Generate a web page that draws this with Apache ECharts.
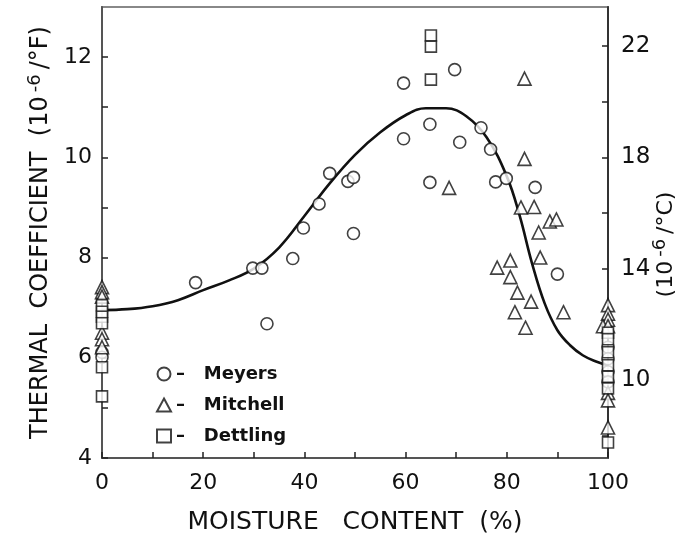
<!DOCTYPE html>
<html>
<head>
<meta charset="utf-8">
<script src="https://cdn.jsdelivr.net/npm/echarts@6/dist/echarts.min.js"></script>
<style>html,body{margin:0;padding:0;background:#fff}#c{width:689px;height:540px}</style>
</head>
<body>
<div id="c"></div>
<script>
// Data (x: moisture content %, y: thermal coefficient 10^-6/°F)
const meyers = [
  [18.5,7.50],[29.8,7.79],[31.6,7.79],[32.6,6.68],[37.7,7.98],[39.8,8.59],[42.9,9.07],
  [45.0,9.68],[48.6,9.52],[49.7,9.60],[49.7,8.48],[59.6,11.48],[59.6,10.37],[64.8,10.66],
  [64.8,9.50],[69.7,11.75],[70.7,10.30],[74.9,10.59],[76.8,10.16],[77.8,9.51],[79.9,9.58],
  [85.6,9.40],[90.0,7.67],
  [0,6.11],[0,6.01],
  [100,6.21],[100,5.98],[100,5.72],[100,5.52]
];
const mitchell = [
  [68.6,9.39],[83.5,11.57],[83.5,9.97],[82.8,9.00],[85.4,9.01],[88.5,8.72],[89.8,8.76],
  [86.3,8.50],[86.6,8.00],[78.1,7.80],[80.7,7.94],[80.7,7.61],[82.1,7.30],[84.8,7.12],
  [81.6,6.91],[91.2,6.91],[83.7,6.60],
  [0,7.41],[0,7.31],[0,7.22],[0,6.50],[0,6.37],[0,6.21],
  [100,7.05],[100,6.88],[100,6.76],[99,6.63],[100,6.63],[100,5.30],[100,5.15],[100,4.61]
];
const dettling = [
  [65.0,12.43],[65.0,12.21],[65.0,11.55],
  [0,7.05],[0,6.92],[0,6.82],[0,6.69],[0,5.81],[0,5.23],
  [100,6.50],[100,6.37],[100,6.11],[100,5.85],[100,5.62],[100,5.39],[100,4.31]
];
const curveX = [0,5,10,15,20,25,30,35,40,45,50,55,60,64,68,72,76,80,82.5,85,87.5,90,92.5,95,97.5,100];
const curveY = [6.95,6.97,7.03,7.15,7.35,7.54,7.78,8.2,8.83,9.48,10.05,10.5,10.84,10.98,10.98,10.82,10.4,9.62,8.85,7.88,7.08,6.55,6.25,6.05,5.93,5.85];
const xTickValues = [0,10,20,30,40,50,60,70,80,90,100];
const xLabelValues = [0,20,40,60,80,100];
const leftTickValues = [4,5,6,7,8,9,10,11,12];
const leftLabelValues = [4,6,8,10,12];
const rightTickValues = [8,10,12,14,16,18,20,22];
const rightLabelValues = [10,14,18,22];
const F_TO_C = 1.8;
const yMin = 4, yMax = 13;

const FONT = 'DejaVu Sans';
const chart = echarts.init(document.getElementById('c'), null, {renderer:'canvas'});
const markerStyle = {color:'#fff', borderColor:'#111', borderWidth:1.6};
const supStyle = {fontFamily:FONT, fontSize:18, color:'#111', verticalAlign:'top', padding:[0,5,12,4]};
chart.setOption({
  animation:false,
  backgroundColor:'#fff',
  grid:{left:102, right:81, top:7, bottom:73, show:true, borderColor:'#888', borderWidth:2},
  legend:{
    orient:'vertical', left:151, top:360, itemGap:13, itemWidth:14, itemHeight:13,
    data:['Meyers','Mitchell','Dettling'],
    formatter: n => '–   ' + n,
    textStyle:{fontFamily:FONT, fontSize:18, fontWeight:'bold', color:'#111'}
  },
  xAxis:{
    type:'value', min:0, max:100,
    axisLine:{lineStyle:{color:'#555', width:2}},
    axisTick:{inside:true, length:6, customValues:xTickValues, lineStyle:{color:'#222', width:1.5}},
    axisLabel:{customValues:xLabelValues, fontFamily:FONT, fontSize:22, color:'#111', margin:14},
    splitLine:{show:false},
    name:'MOISTURE   CONTENT  (%)', nameLocation:'middle', nameGap:52,
    nameTextStyle:{fontFamily:FONT, fontSize:25, color:'#111'}
  },
  yAxis:[{
    type:'value', min:yMin, max:yMax, position:'left',
    axisLine:{lineStyle:{color:'#555', width:2}},
    axisTick:{inside:true, length:6, customValues:leftTickValues, lineStyle:{color:'#222', width:1.5}},
    axisLabel:{customValues:leftLabelValues, fontFamily:FONT, fontSize:22, color:'#111', margin:10},
    splitLine:{show:false},
    name:'THERMAL  COEFFICIENT  (10{s|-6}/°F)', nameLocation:'middle', nameRotate:90, nameGap:46,
    nameTextStyle:{fontFamily:FONT, fontSize:24, color:'#111', rich:{s:supStyle}}
  },{
    type:'value', min:yMin*F_TO_C, max:yMax*F_TO_C, position:'right',
    axisLine:{lineStyle:{color:'#333', width:2}},
    axisTick:{inside:true, length:6, customValues:rightTickValues, lineStyle:{color:'#222', width:1.5}},
    axisLabel:{customValues:rightLabelValues, fontFamily:FONT, fontSize:23, color:'#111', margin:13},
    splitLine:{show:false},
    name:'(10{s|-6}/°C)', nameLocation:'middle', nameRotate:90, nameGap:43, nameMoveOverlap:false,
    nameTextStyle:{fontFamily:FONT, fontSize:22, color:'#111', padding:[0,24,0,0], rich:{s:supStyle}}
  }],
  series:[
    {name:'curve', type:'line', data:curveX.map((x,i)=>[x,curveY[i]]), smooth:0.4,
     showSymbol:false, lineStyle:{color:'#111', width:2.6}, z:1, silent:true},
    {name:'Meyers', type:'scatter', data:meyers, symbol:'circle', symbolSize:12, itemStyle:markerStyle, z:3},
    {name:'Mitchell', type:'scatter', data:mitchell, symbol:'triangle', symbolSize:13, itemStyle:markerStyle, z:3},
    {name:'Dettling', type:'scatter', data:dettling, symbol:'rect', symbolSize:11, itemStyle:markerStyle, z:3}
  ]
});
</script>
</body>
</html>
